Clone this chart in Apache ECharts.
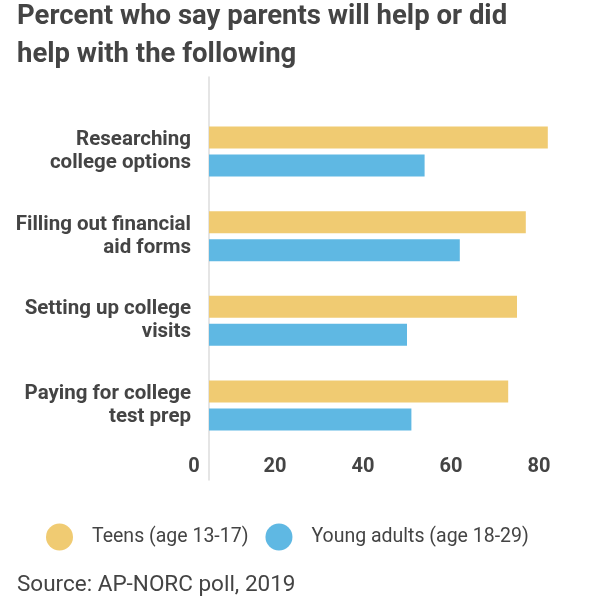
<!DOCTYPE html>
<html>
<head>
<meta charset="utf-8">
<script src="https://cdn.jsdelivr.net/npm/echarts@6/dist/echarts.min.js"></script>
<style>
  html, body { margin: 0; padding: 0; background: #fff; }
  #chart { width: 600px; height: 605px; }
</style>
</head>
<body>
<div id="chart"></div>
<script>
const categories = [
  'Researching\ncollege options',
  'Filling out financial\naid forms',
  'Setting up college\nvisits',
  'Paying for college\ntest prep'
];
const seriesNames = ['Teens (age 13-17)', 'Young adults (age 18-29)'];
const teens = [82, 77, 75, 73];
const youngAdults = [54, 62, 50, 51];
const xTickValues = [0, 20, 40, 60, 80];
const titleText = 'Percent who say parents will help or did\nhelp with the following';
const sourceText = 'Source: AP-NORC poll, 2019';

const textColor = '#444444';
const font = 'Roboto, "Noto Sans", sans-serif';

const chart = echarts.init(document.getElementById('chart'), null, { renderer: 'canvas' });
chart.setOption({
  animation: false,
  textStyle: { fontFamily: font },
  title: [
    {
      text: titleText,
      left: 17, top: -2, padding: 0,
      textStyle: { fontFamily: font, fontSize: 27.5, fontWeight: 'bold', color: textColor, lineHeight: 38 }
    },
    {
      text: sourceText,
      left: 17, top: 572, padding: 0,
      textStyle: { fontFamily: font, fontSize: 22.5, fontWeight: 'normal', color: textColor, lineHeight: 26 }
    }
  ],
  legend: {
    left: 46, top: 523.5, padding: 0,
    itemWidth: 27, itemHeight: 27, itemGap: 17,
    icon: 'circle',
    textStyle: { fontFamily: font, fontSize: 19.5, color: textColor, padding: [0, 0, 0, 14] },
    data: seriesNames
  },
  grid: [
    { left: 209, right: 39, top: 109.25, bottom: 157.25, containLabel: false },
    { left: 187, right: 39, top: 77, bottom: 125, containLabel: false }
  ],
  xAxis: [
    {
      gridIndex: 0, type: 'value', min: 5, max: 85, show: false
    },
    {
      gridIndex: 1, type: 'value', min: 0, max: 85, offset: -31,
      axisLine: { show: false }, axisTick: { show: false }, splitLine: { show: false },
      axisLabel: {
        customValues: xTickValues,
        margin: 8,
        fontFamily: font, fontSize: 20, fontWeight: 'bold', color: textColor,
        formatter: v => v === 0 ? '{z|0}' : String(v),
        rich: { z: { padding: [0, 0, 0, 14], fontFamily: font, fontSize: 20, fontWeight: 'bold', color: textColor } }
      }
    }
  ],
  yAxis: [
    {
      gridIndex: 0, type: 'category', data: categories, inverse: true,
      axisLine: { show: false }, axisTick: { show: false }, splitLine: { show: false },
      axisLabel: {
        margin: 18, align: 'right', padding: [4, 0, 0, 0],
        fontFamily: font, fontSize: 20.5, fontWeight: 'bold', color: textColor, lineHeight: 23
      }
    },
    {
      gridIndex: 1, type: 'value', min: 0, max: 1, offset: -22,
      axisLine: { show: true, lineStyle: { color: '#dcdcdc', width: 1.5 } },
      axisTick: { show: false }, axisLabel: { show: false }, splitLine: { show: false }
    }
  ],
  series: [
    {
      name: seriesNames[0], type: 'bar', xAxisIndex: 0, yAxisIndex: 0,
      data: teens, barWidth: 22, barGap: '27%', clip: true,
      itemStyle: { color: '#F0CB72' }
    },
    {
      name: seriesNames[1], type: 'bar', xAxisIndex: 0, yAxisIndex: 0,
      data: youngAdults, barWidth: 22, barGap: '27%', clip: true,
      itemStyle: { color: '#5FB8E3' }
    }
  ]
});
</script>
</body>
</html>
